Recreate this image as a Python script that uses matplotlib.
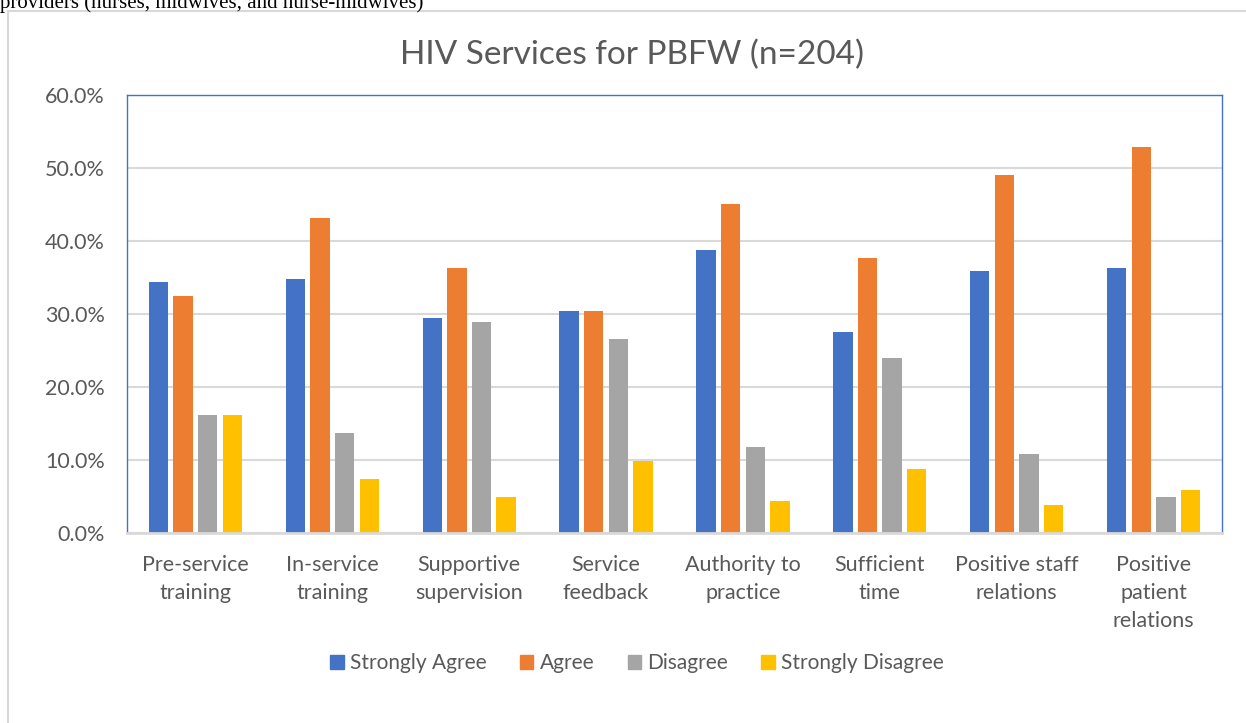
import numpy as np
import matplotlib.pyplot as plt
from matplotlib.patches import Rectangle
from matplotlib.ticker import FuncFormatter

categories = ["Pre-service\ntraining", "In-service\ntraining", "Supportive\nsupervision",
              "Service\nfeedback", "Authority to\npractice", "Sufficient\ntime",
              "Positive staff\nrelations", "Positive\npatient\nrelations"]
series = ["Strongly Agree", "Agree", "Disagree", "Strongly Disagree"]
strongly_agree = [34.3, 34.8, 29.4, 30.4, 38.7, 27.5, 35.8, 36.3]
agree = [32.4, 43.1, 36.3, 30.4, 45.1, 37.7, 49.0, 52.9]
disagree = [16.2, 13.7, 28.9, 26.5, 11.8, 24.0, 10.8, 4.9]
strongly_disagree = [16.2, 7.4, 4.9, 9.8, 4.4, 8.8, 3.9, 5.9]
colors = ["#4472C4", "#ED7D31", "#A5A5A5", "#FFC000"]

plt.rcParams['font.family'] = ['Lato', 'DejaVu Sans']
txt = '#595959'

fig = plt.figure(figsize=(12.46, 7.23), dpi=100)
W, H = 1246, 723

# chart border and the clipped document line above it
fig.patches.append(Rectangle((8 / W, -0.1), 1.2, (723 - 11) / H + 0.1, transform=fig.transFigure,
                             fill=False, edgecolor='#d9d9d9', lw=1.5))
fig.text(0 / W, 1 - 8 / H, "providers (nurses, midwives, and nurse-midwives)",
         family='Liberation Serif', fontsize=15, va='baseline', ha='left', color='black')

ax = fig.add_axes([127 / W, 1 - 533 / H, 1095 / W, (533 - 94.7) / H])
x = np.arange(len(categories))
pitch = 0.18
for i, (vals, c) in enumerate(zip([strongly_agree, agree, disagree, strongly_disagree], colors)):
    ax.bar(x + (i - 1.5) * pitch, vals, width=0.142, color=c, label=series[i], zorder=3)

ax.set_xlim(-0.5, len(categories) - 0.5)
ax.set_ylim(0, 60)
ax.set_yticks(np.arange(0, 61, 10))
ax.yaxis.set_major_formatter(FuncFormatter(lambda v, p: f"{v:.1f}%"))
ax.set_xticks(x)
ax.set_xticklabels(categories, fontsize=15.5, color=txt, linespacing=1.5)
ax.tick_params(axis='y', labelsize=15.5, labelcolor=txt, length=0, pad=16)
ax.tick_params(axis='x', length=0, pad=16)
ax.grid(axis='y', color='#d9d9d9', lw=1.5, zorder=0)
for s in ['top', 'left', 'right']:
    ax.spines[s].set_color('#4472C4')
    ax.spines[s].set_linewidth(1)
ax.spines['bottom'].set_color('#d9d9d9')
ax.spines['bottom'].set_linewidth(2)
ax.spines['bottom'].set_zorder(4)

fig.text(632 / W, 1 - 55 / H, "HIV Services for PBFW (n=204)", fontsize=24, color=txt,
         ha='center', va='center')

handles = [Rectangle((0, 0), 1, 1, color=c) for c in colors]
fig.legend(handles, series, loc='center', bbox_to_anchor=(637 / W, 1 - 663 / H), ncol=4,
           frameon=False, fontsize=15, labelcolor=txt, handlelength=0.65, handleheight=0.65,
           handletextpad=0.3, columnspacing=1.6)

fig.savefig("out.png", dpi=100)
